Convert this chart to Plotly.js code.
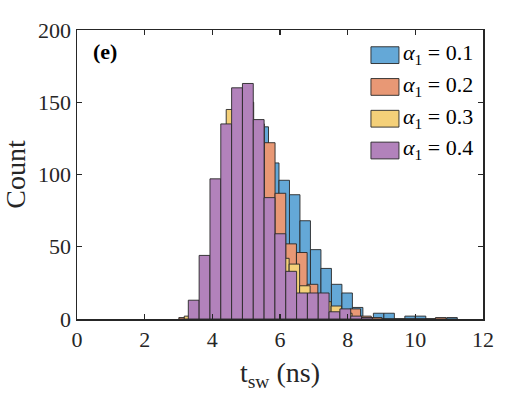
<!DOCTYPE html>
<html>
<head>
<meta charset="utf-8">
<script src="https://cdn.plot.ly/plotly-3.0.1.min.js"></script>
<style>
  html, body { margin: 0; padding: 0; background: #fff; }
  #histSw { width: 532px; height: 399px; }
</style>
</head>
<body>
<div id="histSw"></div>
<script>
// switching time histograms, one per alpha_1

var alphaLabels = ['0.1', '0.2', '0.3', '0.4'];
var fillColors = ['rgb(100,168,215)', 'rgb(232,152,117)', 'rgb(244,208,121)', 'rgb(178,130,187)'];

// bin edges (ns) for each series: first edge and bin width
var binStart = [3.49, 3.01, 3.17, 3.29];
var binWidth = [0.31, 0.316, 0.31, 0.32];

// counts per bin
var counts01 = [5, 30, 80, 125, 150, 135, 133, 108, 96, 86, 68, 48, 35, 24, 18, 8, 1, 4, 4, 0, 2, 2, 0, 0, 1];
var counts02 = [1, 5, 20, 50, 90, 135, 150, 135, 122, 87, 52, 46, 24, 14, 5, 5, 7, 2, 1, 0, 0, 0, 0, 0, 1];
var counts03 = [2, 12, 40, 90, 145, 155, 135, 82, 56, 42, 38, 23, 15, 12, 9, 4, 1];
var counts04 = [13, 44, 97, 135, 160, 163, 138, 84, 59, 33, 18, 18, 18, 5, 7, 2, 1];

var allCounts = [counts01, counts02, counts03, counts04];

function binCenters(start, w, n) {
    var c = [];
    for (var i = 0; i < n; i++) c.push(start + w * (i + 0.5));
    return c;
}

var dataSw = allCounts.map(function (cnt, k) {
    return {
        x: binCenters(binStart[k], binWidth[k], cnt.length),
        y: cnt,
        width: binWidth[k],
        type: 'bar',
        name: 'α1 = ' + alphaLabels[k],
        showlegend: false,
        marker: {
            color: fillColors[k],
            line: { color: 'rgba(40,40,40,0.9)', width: 1 }
        },
        hoverinfo: 'x+y'
    };
});

// hand-made legend (MATLAB style, no box)
var shapes = [];
var notes = [];
alphaLabels.forEach(function (lab, k) {
    var yc = 0.913 - k * 0.110;
    shapes.push({
        type: 'rect', xref: 'paper', yref: 'paper',
        x0: 0.724, x1: 0.793, y0: yc - 0.029, y1: yc + 0.029,
        fillcolor: fillColors[k],
        line: { color: 'rgba(40,40,40,0.9)', width: 1 }
    });
    notes.push({
        xref: 'paper', yref: 'paper', x: 0.797, y: yc + 0.004,
        xanchor: 'left', yanchor: 'middle', showarrow: false,
        text: '<i>α</i><sub>1</sub> = ' + lab,
        font: { size: 22 }
    });
});

notes.push({
    xref: 'paper', yref: 'paper', x: 0.035, y: 0.925,
    xanchor: 'left', yanchor: 'middle', showarrow: false,
    text: '<b>(e)</b>',
    font: { size: 22 }
});

var axisStyle = {
    showline: true,
    mirror: 'ticks',
    linecolor: '#262626',
    linewidth: 1.5,
    ticks: 'inside',
    ticklen: 5,
    tickwidth: 1.2,
    tickcolor: '#262626',
    showgrid: false,
    zeroline: false,
    tickfont: { family: 'Liberation Serif', size: 22, color: '#262626' }
};

var layoutSw = {
    width: 532,
    height: 399,
    margin: { l: 77, r: 49, t: 30, b: 80 },
    paper_bgcolor: '#fff',
    plot_bgcolor: '#fff',
    font: { family: 'Liberation Serif', color: '#000' },
    barmode: 'overlay',
    bargap: 0,
    xaxis: Object.assign({}, axisStyle, {
        range: [0, 12],
        tickvals: [0, 2, 4, 6, 8, 10, 12],
        title: { text: 't<sub>sw</sub> (ns)', font: { family: 'Liberation Serif', size: 28, color: '#262626' }, standoff: 11 }
    }),
    yaxis: Object.assign({}, axisStyle, {
        range: [0, 200],
        tickvals: [0, 50, 100, 150, 200],
        title: { text: 'Count', font: { family: 'Liberation Serif', size: 28, color: '#262626' }, standoff: 8 }
    }),
    shapes: shapes,
    annotations: notes
};

Plotly.newPlot('histSw', dataSw, layoutSw, { displayModeBar: false, staticPlot: true });
</script>
</body>
</html>
